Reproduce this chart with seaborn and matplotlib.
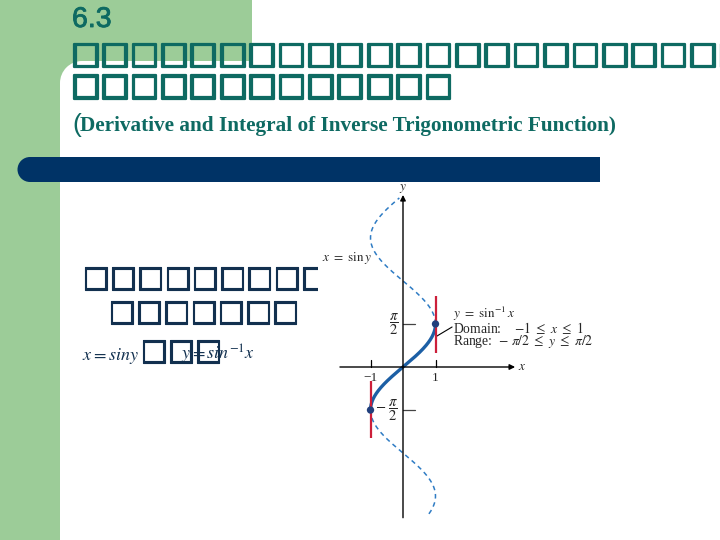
import numpy as np
import matplotlib
matplotlib.use('Agg')
import matplotlib.pyplot as plt
import matplotlib.patheffects as pe
from matplotlib.patches import Rectangle, Circle
import seaborn as sns

sns.set_theme(style='white')
plt.rcParams['font.family'] = ['Liberation Serif', 'DejaVu Sans']
plt.rcParams['mathtext.fontset'] = 'stix'

# --- slide text (the original glyphs show up as empty boxes) ---
title_num = '6.3'
title_row1 = '\u25a1' * 23
title_row2 = '\u25a1' * 13
subtitle = 'Derivative and Integral of Inverse Trigonometric Function)'
body_row1 = '\u25a1' * 9
body_row2 = '\u25a1' * 7
body_left = r'$x{=}siny$'
body_boxes = '\u25a1' * 3
body_right = r'$y{=}sin^{-1}x$'

# --- graph data: x = sin y ---
half_pi = np.pi / 2
y_top_end = 6.17       # top end of dashed branch
y_bottom_end = -5.36   # bottom end of dashed branch
dot_x = [1, -1]
dot_y = [half_pi, -half_pi]
red_x = [1, -1]
red_lo = [0.5, -2.6]
red_hi = [2.6, -0.5]
xtick_vals = [-1, 1]
xtick_labels = ['\u22121', '1']
ytick_vals = [half_pi, -half_pi]
ytick_labels = [r'$\dfrac{\pi}{2}$', r'$-\ \dfrac{\pi}{2}$']

green = '#9ccc98'
teal = '#0e6a62'
navy = '#003366'
ink = '#12304f'

fig = plt.figure(figsize=(7.2, 5.4), dpi=100)
fig.patch.set_facecolor('white')

# background drawn in pixel coordinates
bg = fig.add_axes([0, 0, 1, 1])
bg.set_xlim(0, 720)
bg.set_ylim(540, 0)
bg.axis('off')

bg.add_patch(Rectangle((0, 0), 252, 61, color=green, lw=0, zorder=1))
bg.add_patch(Rectangle((0, 0), 60, 540, color=green, lw=0, zorder=1))
bg.add_patch(Rectangle((60, 61), 22, 22, color=green, lw=0, zorder=1))
bg.add_patch(Circle((82, 83), 22, color='white', lw=0, zorder=1.5))

bg.add_patch(Rectangle((30, 157), 570, 25, color=navy, lw=0, zorder=2))
bg.add_patch(Circle((30, 169.5), 12.5, color=navy, lw=0, zorder=2))

thick = [pe.withStroke(linewidth=1.6, foreground=teal)]
bg.text(72, 27, title_num, family='Liberation Sans', fontsize=20.5,
        color=teal, va='baseline', zorder=3,
        path_effects=[pe.withStroke(linewidth=0.6, foreground=teal)])
bg.text(71, 55, title_row1, family='DejaVu Sans', fontsize=22.4,
        color=teal, va='center', zorder=3, path_effects=thick)
bg.text(71, 86.5, title_row2, family='DejaVu Sans', fontsize=22.4,
        color=teal, va='center', zorder=3, path_effects=thick)
bg.text(72, 132, '(', family='Liberation Sans', fontsize=19,
        color=teal, va='baseline', zorder=3)
bg.text(80, 131, subtitle, family='Liberation Serif', fontsize=15.3,
        fontweight='bold', color=teal, va='baseline', zorder=3)

thin = [pe.withStroke(linewidth=0.8, foreground=ink)]
bg.text(82, 278, body_row1, family='DejaVu Sans', fontsize=20.8,
        color=ink, va='center', zorder=3, path_effects=thin)
bg.text(108, 312, body_row2, family='DejaVu Sans', fontsize=20.8,
        color=ink, va='center', zorder=3, path_effects=thin)
bg.text(82, 360, body_left, fontsize=13, color=ink, va='baseline', zorder=3)
bg.text(140, 351, body_boxes, family='DejaVu Sans', fontsize=20.8,
        color=ink, va='center', zorder=3, path_effects=thin)
bg.text(181, 360, body_right, fontsize=13, color=ink, va='baseline', zorder=3)

# white picture area of the graph
bg.add_patch(Rectangle((318, 184), 210, 345, color='white', lw=0, zorder=4))

# --- graph axes: 1 unit x = 32.5 px, 1 unit y = 27.4 px, origin at (403, 367) ---
L, R, T, B = 318, 525, 184, 525
ax = fig.add_axes([L / 720, 1 - B / 540, (R - L) / 720, (B - T) / 540])
ax.set_xlim((L - 403) / 32.5, (R - 403) / 32.5)
ax.set_ylim((367 - B) / 27.4, (367 - T) / 27.4)
ax.axis('off')

ax.annotate('', xy=(0, 6.28), xytext=(0, -5.5),
            arrowprops=dict(arrowstyle='-|>', color='black', lw=1.0,
                            mutation_scale=8, shrinkA=0, shrinkB=0))
ax.annotate('', xy=(3.45, 0), xytext=(-1.94, 0),
            arrowprops=dict(arrowstyle='-|>', color='black', lw=1.0,
                            mutation_scale=8, shrinkA=0, shrinkB=0))
ax.text(0, 6.5, '$y$', fontsize=9.5, ha='center', va='center')
ax.text(3.55, 0, '$x$', fontsize=9.5, ha='left', va='center')

for xv, lab in zip(xtick_vals, xtick_labels):
    ax.plot([xv, xv], [0, 0.25], color='black', lw=0.9)
    ax.text(xv, -0.2, lab, fontsize=9.5, ha='center', va='top')
for yv, lab, off in zip(ytick_vals, ytick_labels, [-0.27, -0.5]):
    ax.plot([0, 0.36], [yv, yv], color='#444444', lw=0.9)
    ax.text(off, yv, lab, fontsize=10.5, ha='center', va='center')

# x = sin y curve: dashed outside [-pi/2, pi/2], solid inside
y_up = np.linspace(half_pi, y_top_end, 150)
y_dn = np.linspace(y_bottom_end, -half_pi, 150)
y_mid = np.linspace(-half_pi, half_pi, 150)
for yy in (y_up, y_dn):
    sns.lineplot(x=np.sin(yy), y=yy, sort=False, estimator=None, ax=ax,
                 color='#2f7cc4', lw=1.1, linestyle=(0, (3, 2.5)))
sns.lineplot(x=np.sin(y_mid), y=y_mid, sort=False, estimator=None, ax=ax,
             color='#1c5fa5', lw=2.4)

ax.vlines(red_x, red_lo, red_hi, color='#cc1f3a', lw=1.6, zorder=3)
sns.scatterplot(x=dot_x, y=dot_y, ax=ax, s=28, color='#213f7c',
                edgecolor='none', zorder=5)

ax.text(-2.49, 3.98, r'$x\ =\ \sin y$', fontsize=9.5, ha='left', va='center')
ax.text(1.54, 1.94, r'$y\ =\ \sin^{-1}x$', fontsize=9.5, ha='left', va='center')
ax.text(1.54, 1.43, r'Domain:    $-1\ \leq\ x\ \leq\ 1$', fontsize=9.8,
        ha='left', va='center')
ax.text(1.54, 0.94, r'Range:  $-\ \pi/2\ \leq\ y\ \leq\ \pi/2$', fontsize=9.8,
        ha='left', va='center')
ax.plot([1.51, 1.03], [1.46, 1.12], color='black', lw=0.8)

ax.set_xlabel('')
ax.set_ylabel('')
if ax.get_legend():
    ax.get_legend().remove()

fig.savefig('out.png', dpi=100)
